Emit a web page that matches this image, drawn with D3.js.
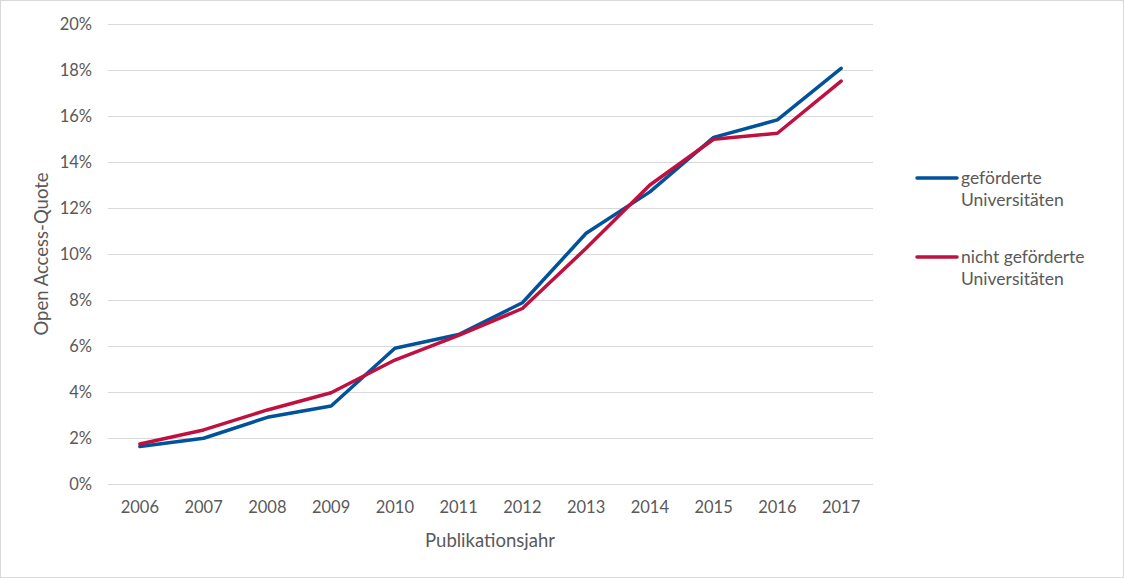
<!DOCTYPE html>
<html>
<head>
<meta charset="utf-8">
<script src="https://cdn.jsdelivr.net/npm/d3@7"></script>
<style>
  body { margin: 0; background: #fff; }
  text { font-family: Lato, "Open Sans", sans-serif; fill: #595959; }
</style>
</head>
<body>
<div id="chart"></div>
<script>
// data
const years = ['2006', '2007', '2008', '2009', '2010', '2011', '2012', '2013', '2014', '2015', '2016', '2017']
const gefoerdert = [1.63, 1.99, 2.9, 3.39, 5.9, 6.5, 7.88, 10.9, 12.7, 15.07, 15.83, 18.07]
const nichtGefoerdert = [1.74, 2.35, 3.22, 3.97, 5.39, 6.46, 7.63, 10.25, 13.0, 14.99, 15.25, 17.52]
const yTicks = [0, 2, 4, 6, 8, 10, 12, 14, 16, 18, 20]

const series = [
  {name: ['geförderte', 'Universitäten'], values: gefoerdert, color: '#00529B'},
  {name: ['nicht geförderte', 'Universitäten'], values: nichtGefoerdert, color: '#C0103F'}
]

const width = 1124
const height = 578
const plot = {left: 108, right: 873, top: 24, bottom: 484}

const svg = d3.select('#chart').append('svg')
  .attr('width', width)
  .attr('height', height)

// outer frame
svg.append('rect')
  .attr('x', 0.5).attr('y', 0.5)
  .attr('width', width - 1).attr('height', height - 1)
  .attr('fill', '#fff')
  .attr('stroke', '#d9d9d9')

const x = d3.scaleBand().domain(years).range([plot.left, plot.right])
const y = d3.scaleLinear().domain([0, 20]).range([plot.bottom, plot.top])

// gridlines
svg.append('g').selectAll('line').data(yTicks).enter().append('line')
  .attr('x1', plot.left).attr('x2', plot.right)
  .attr('y1', d => Math.round(y(d)) + 0.5)
  .attr('y2', d => Math.round(y(d)) + 0.5)
  .attr('stroke', '#d9d9d9')
  .attr('stroke-width', 1)

// y axis labels
const yAxis = d3.axisLeft(y).tickValues(yTicks).tickFormat(d => d + '%').tickSize(0).tickPadding(16)
svg.append('g')
  .attr('transform', `translate(${plot.left},0)`)
  .call(yAxis)
  .call(g => g.select('.domain').remove())
  .selectAll('text')
  .style('font-family', 'Lato, "Open Sans", sans-serif')
  .style('font-size', '16.5px')
  .attr('fill', '#595959')

// x axis labels
const xAxis = d3.axisBottom(x).tickSize(0).tickPadding(17)
svg.append('g')
  .attr('transform', `translate(0,${plot.bottom})`)
  .call(xAxis)
  .call(g => g.select('.domain').remove())
  .selectAll('text')
  .style('font-family', 'Lato, "Open Sans", sans-serif')
  .style('font-size', '16.5px')
  .attr('fill', '#595959')

// axis titles
svg.append('text')
  .attr('transform', `translate(48,${(plot.top + plot.bottom) / 2}) rotate(-90)`)
  .attr('text-anchor', 'middle')
  .style('font-size', '18.5px')
  .text('Open Access-Quote')

svg.append('text')
  .attr('x', 490)
  .attr('y', 547)
  .attr('text-anchor', 'middle')
  .style('font-size', '18.5px')
  .text('Publikationsjahr')

// lines
const line = d3.line()
  .x((d, i) => x(years[i]) + x.bandwidth() / 2)
  .y(d => y(d))

svg.append('g').selectAll('path').data(series).enter().append('path')
  .attr('d', d => line(d.values))
  .attr('fill', 'none')
  .attr('stroke', d => d.color)
  .attr('stroke-width', 3.5)
  .attr('stroke-linejoin', 'round')
  .attr('stroke-linecap', 'round')

// legend
const legend = svg.append('g').selectAll('g').data(series).enter().append('g')
  .attr('transform', (d, i) => `translate(917,${178 + i * 79})`)

legend.append('line')
  .attr('x1', 0).attr('x2', 40)
  .attr('stroke', d => d.color)
  .attr('stroke-width', 3.5)
  .attr('stroke-linecap', 'round')

legend.append('text')
  .style('font-size', '17.5px')
  .selectAll('tspan').data(d => d.name).enter().append('tspan')
  .attr('x', 44)
  .attr('y', (d, i) => 6 + i * 22)
  .text(d => d)
</script>
</body>
</html>
